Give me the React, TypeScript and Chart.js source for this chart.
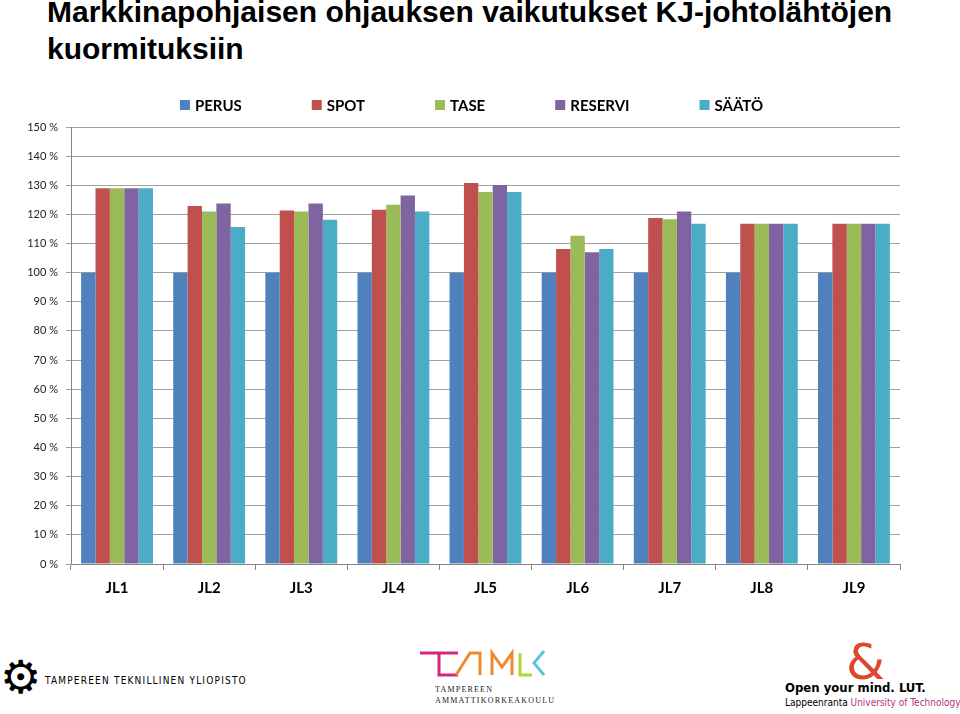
import React, { useEffect, useRef } from "react";
import { Chart, registerables } from "chart.js";

Chart.register(...registerables);

const categories = ["JL1", "JL2", "JL3", "JL4", "JL5", "JL6", "JL7", "JL8", "JL9"];
const seriesNames = ["PERUS", "SPOT", "TASE", "RESERVI", "SÄÄTÖ"];
const perus = [100, 100, 100, 100, 100, 100, 100, 100, 100];
const spot = [129, 122.9, 121.3, 121.6, 130.8, 108.1, 118.8, 116.8, 116.8];
const tase = [129, 121.0, 121.0, 123.3, 127.7, 112.7, 118.3, 116.8, 116.8];
const reservi = [129, 123.7, 123.7, 126.5, 130.1, 107.0, 121.0, 116.8, 116.8];
const saato = [129, 115.7, 118.2, 121.0, 127.7, 108.1, 116.8, 116.8, 116.8];
const colors = ["#4F81BD", "#C0504D", "#9BBB59", "#8064A2", "#4BACC6"];
const yTicks = [0, 10, 20, 30, 40, 50, 60, 70, 80, 90, 100, 110, 120, 130, 140, 150];

const legendPlugin = {
  id: "customLegend",
  afterDraw(chart: any) {
    const ctx = chart.ctx;
    ctx.save();
    ctx.font = "bold 15px Lato";
    ctx.textBaseline = "middle";
    ctx.textAlign = "left";
    const gap = 70;
    const items = chart.data.datasets.map((d: any) => ({
      label: d.label,
      color: d.backgroundColor,
      w: ctx.measureText(d.label).width,
    }));
    const total = items.reduce((s: number, it: any) => s + 14 + it.w, 0) + gap * (items.length - 1);
    let x = 469 - total / 2;
    const y = 15;
    items.forEach((it: any) => {
      ctx.fillStyle = it.color;
      ctx.fillRect(x, y - 5, 10, 10);
      ctx.fillStyle = "#000";
      ctx.fillText(it.label, x + 15, y + 1);
      x += 15 + it.w + gap;
    });
    ctx.restore();
  },
};

function ChartBox() {
  const ref = useRef<HTMLCanvasElement>(null);
  useEffect(() => {
    if (!ref.current) return;
    const all = [perus, spot, tase, reservi, saato];
    const chart = new Chart(ref.current, {
      type: "bar",
      data: {
        labels: categories,
        datasets: seriesNames.map((n, i) => ({
          label: n,
          data: all[i],
          backgroundColor: colors[i],
          borderWidth: 0,
          categoryPercentage: 0.78,
          barPercentage: 1,
        })),
      },
      options: {
        animation: false,
        responsive: false,
        maintainAspectRatio: false,
        layout: { padding: { top: 37, right: 10, left: 0, bottom: 0 } },
        plugins: { legend: { display: false }, tooltip: { enabled: false } },
        scales: {
          x: {
            afterFit: (s: any) => { s.height = 46; },
            grid: { display: true, drawOnChartArea: false, offset: true, tickLength: 6, color: "#868686" },
            border: { color: "#868686" },
            ticks: { color: "#000", font: { family: "Lato", size: 15, weight: "bold" }, padding: 9 },
          },
          y: {
            min: 0,
            max: 150,
            afterFit: (s: any) => { s.width = 71; },
            afterBuildTicks: (s: any) => { s.ticks = yTicks.map((v) => ({ value: v })); },
            grid: { color: "#A0A0A0", tickLength: 5 },
            border: { color: "#868686" },
            ticks: {
              color: "#222",
              font: { family: "Lato", size: 11 },
              padding: 8,
              callback: (v: any) => v + " %",
            },
          },
        },
      },
      plugins: [legendPlugin],
    } as any);
    return () => chart.destroy();
  }, []);
  return <canvas ref={ref} width={910} height={520} style={{ display: "block" }} />;
}

export default function App() {
  return (
    <div style={{ position: "absolute", left: 0, top: 0, width: 960, height: 714, background: "#fff", overflow: "hidden" }}>
      <div
        style={{
          position: "absolute",
          left: 47,
          top: -7,
          fontFamily: "'Liberation Sans', Arial, sans-serif",
          fontWeight: "bold",
          fontSize: 30,
          lineHeight: "37px",
          color: "#000",
          whiteSpace: "nowrap",
        }}
      >
        Markkinapohjaisen ohjauksen vaikutukset KJ-johtolähtöjen
        <br />
        kuormituksiin
      </div>
      <div style={{ position: "absolute", left: 0, top: 90 }}>
        <ChartBox />
      </div>
      {/* TUT logo */}
      <div style={{ position: "absolute", left: 0, top: 654, fontSize: 46, lineHeight: "46px", fontFamily: "DejaVu Sans", color: "#000" }}>⚙</div>
      <div
        style={{
          position: "absolute",
          left: 45,
          top: 675,
          fontFamily: "'DejaVu Sans Condensed', 'DejaVu Sans', sans-serif",
          fontSize: 10,
          letterSpacing: 1.2,
          color: "#000",
          whiteSpace: "nowrap",
        }}
      >
        TAMPEREEN TEKNILLINEN YLIOPISTO
      </div>
      {/* TAMK logo */}
      <svg style={{ position: "absolute", left: 418, top: 645 }} width={130} height={40}>
        <polyline points="2,8 40,8" stroke="#d6247f" strokeWidth={3} fill="none" />
        <polyline points="21,8 21,30 40,30" stroke="#d6247f" strokeWidth={3} fill="none" />
        <polyline points="38,30 52,8 62,8 62,30" stroke="#f08a2c" strokeWidth={3} fill="none" />
        <polyline points="74,30 74,8 84,22 94,8 94,30" stroke="#f08a2c" strokeWidth={3} fill="none" />
        <polyline points="102,8 102,30 114,30" stroke="#b7d433" strokeWidth={3} fill="none" />
        <polyline points="126,6 116,18 126,30" stroke="#5fc2dc" strokeWidth={3} fill="none" />
      </svg>
      <div style={{ position: "absolute", left: 435, top: 684, fontFamily: "'Liberation Serif', serif", fontSize: 8, letterSpacing: 1.2, lineHeight: "11px", color: "#222" }}>
        TAMPEREEN
        <br />
        AMMATTIKORKEAKOULU
      </div>
      {/* LUT logo */}
      <div style={{ position: "absolute", left: 846, top: 632, fontFamily: "'DejaVu Sans', sans-serif", fontSize: 50, lineHeight: "60px", color: "#e0462c" }}>&amp;</div>
      <div style={{ position: "absolute", left: 785, top: 680, fontFamily: "'DejaVu Sans Condensed', sans-serif", fontWeight: "bold", fontSize: 13, color: "#000", whiteSpace: "nowrap" }}>
        Open your mind. LUT.
      </div>
      <div style={{ position: "absolute", left: 785, top: 697, fontFamily: "'DejaVu Sans Condensed', sans-serif", fontSize: 10, color: "#000", whiteSpace: "nowrap" }}>
        Lappeenranta <span style={{ color: "#b4357a" }}>University of Technology</span>
      </div>
    </div>
  );
}
